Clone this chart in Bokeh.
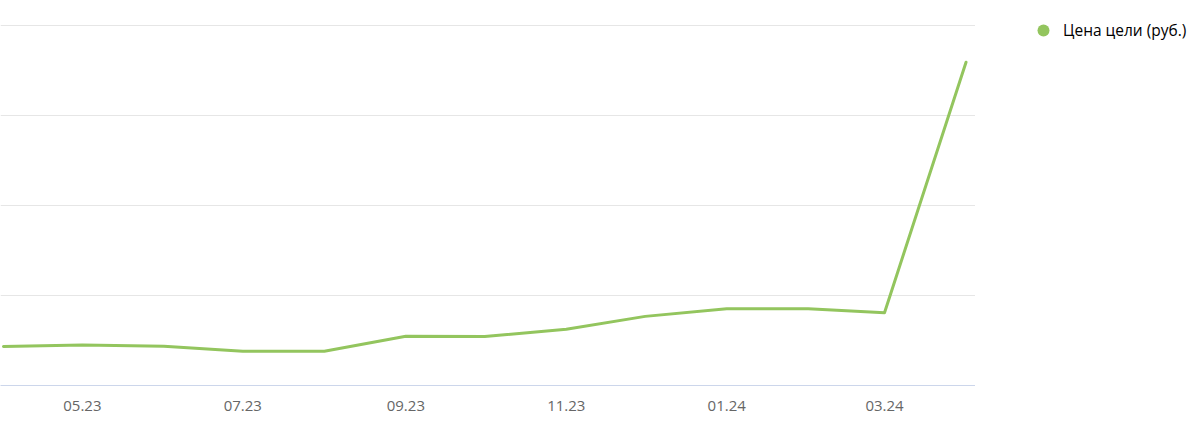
import pandas as pd
from bokeh.plotting import figure
from bokeh.layouts import row
from bokeh.models import (Legend, LegendItem, ColumnDataSource, FixedTicker,
                          DatetimeTickFormatter, Range1d)
from bokeh.embed import file_html
from bokeh.resources import INLINE

# ---- data ----
months = ["2023-04-01", "2023-05-01", "2023-06-01", "2023-07-01", "2023-08-01",
          "2023-09-01", "2023-10-01", "2023-11-01", "2023-12-01", "2024-01-01",
          "2024-02-01", "2024-03-01", "2024-04-01"]
price = [43.3, 45.0, 43.6, 38.0, 38.0, 54.8, 54.4, 62.4, 76.8, 85.2, 85.2, 80.9, 359.1]
tick_dates = ["2023-05-01", "2023-07-01", "2023-09-01", "2023-11-01", "2024-01-01", "2024-03-01"]
grid_values = [0, 100, 200, 300, 400]
series_name = "Цена цели (руб.)"
line_color = "#93c55e"

x = pd.to_datetime(months)
src = ColumnDataSource(dict(x=x, y=price))

x_start = pd.Timestamp("2023-04-01") - pd.Timedelta(days=1.13)
x_end = pd.Timestamp("2024-04-01") + pd.Timedelta(days=3.6)

# ---- main chart ----
p = figure(width=975, height=422, output_backend="svg", toolbar_location=None,
           x_axis_type="datetime",
           x_range=Range1d(x_start, x_end), y_range=Range1d(0, 422.2))
p.min_border_left = 0
p.min_border_right = 0
p.min_border_top = 5
p.min_border_bottom = 37
p.outline_line_color = None
p.background_fill_color = "white"
p.border_fill_color = "white"

p.yaxis.visible = False
p.ygrid.grid_line_color = "#e6e6e6"
p.ygrid.grid_line_width = 1
p.yaxis.ticker = FixedTicker(ticks=grid_values)
p.xgrid.grid_line_color = None

xa = p.xaxis[0]
xa.ticker = FixedTicker(ticks=[pd.Timestamp(d).value / 1e6 for d in tick_dates])
xa.formatter = DatetimeTickFormatter(months="%m.%y", days="%m.%y", years="%m.%y")
xa.axis_line_color = "#ccd6eb"
xa.axis_line_width = 1
xa.major_tick_line_color = None
xa.minor_tick_line_color = None
xa.major_tick_out = 0
xa.major_tick_in = 0
xa.major_label_standoff = 15
xa.major_label_text_font = "Open Sans"
xa.major_label_text_font_size = "15px"
xa.major_label_text_color = "#666666"

p.line("x", "y", source=src, line_color=line_color, line_width=3,
       line_join="round", line_cap="round")

# ---- legend panel ----
q = figure(width=225, height=422, output_backend="svg", toolbar_location=None,
           x_range=Range1d(0, 1), y_range=Range1d(0, 1),
           x_axis_location=None, y_axis_location=None)
q.min_border_left = 43
q.min_border_right = 0
q.min_border_top = 0
q.min_border_bottom = 0
q.outline_line_color = None
q.xgrid.visible = False
q.ygrid.visible = False
icon = q.scatter("x", "y", source=src, size=0, fill_color=line_color,
                 line_color=None)

legend = Legend(items=[LegendItem(label=series_name, renderers=[icon])],
                location="top_left", orientation="vertical",
                glyph_width=30, glyph_height=30, label_standoff=5,
                padding=0, margin=10, spacing=0,
                border_line_color=None, background_fill_alpha=0,
                label_text_font="Open Sans", label_text_font_size="15.5px",
                label_text_color="#000000")
q.add_layout(legend, "center")

layout = row(p, q, spacing=0)
open("out.html", "w").write(file_html(layout, INLINE))
